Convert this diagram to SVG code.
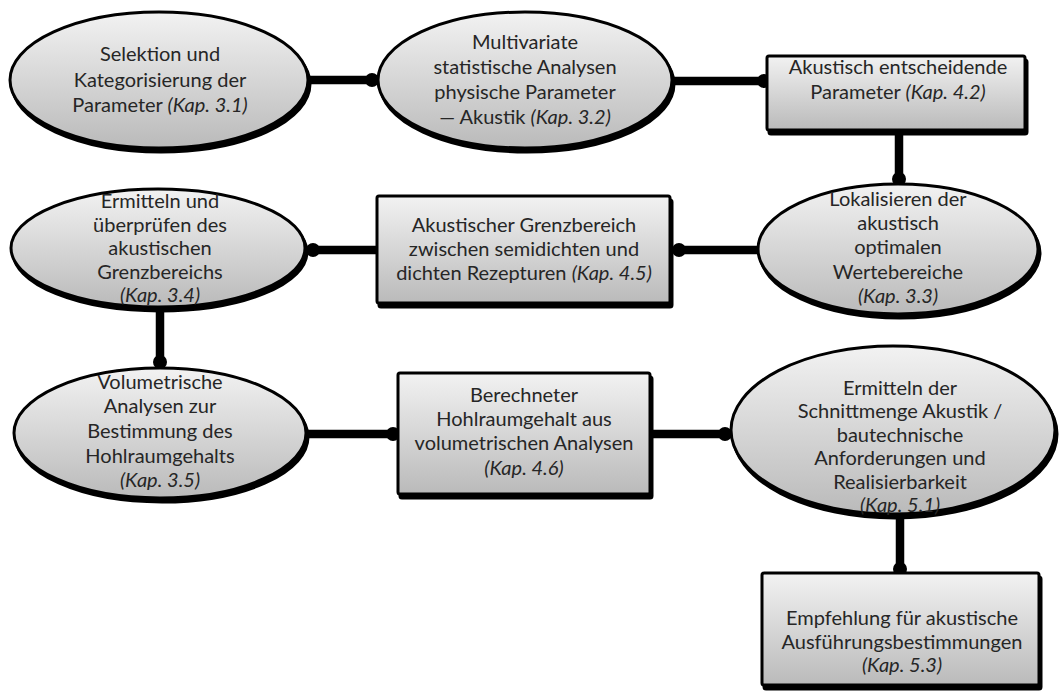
<svg xmlns="http://www.w3.org/2000/svg" width="1059" height="693" viewBox="0 0 1059 693">
<defs>
<linearGradient id="g" x1="0" y1="0" x2="0" y2="1">
<stop offset="0" stop-color="#f2f2f2"/>
<stop offset="1" stop-color="#bababa"/>
</linearGradient>
<marker id="dot" markerUnits="userSpaceOnUse" markerWidth="18" markerHeight="18" refX="9" refY="9" orient="auto">
<circle cx="9" cy="9" r="7" fill="#000"/>
</marker>
<style>
.sh{fill:#000;stroke:#000;stroke-width:3}
.bx{fill:url(#g);stroke:#000;stroke-width:3}
.t{font-family:Lato,"Liberation Sans",sans-serif;font-size:20px;fill:#262626;text-anchor:middle}
.i{font-style:italic}
.c{stroke:#000;stroke-width:8.5;fill:none;marker-end:url(#dot)}
</style>
</defs>
<rect width="1059" height="693" fill="#fff"/>
<g id="connectors">
<line class="c" x1="306" y1="80" x2="372" y2="80"/>
<line class="c" x1="672" y1="81" x2="764" y2="81"/>
<line class="c" x1="899" y1="132" x2="899" y2="179"/>
<line class="c" x1="758" y1="250" x2="679" y2="250"/>
<line class="c" x1="377" y1="250" x2="313" y2="250"/>
<line class="c" x1="160" y1="308" x2="160" y2="362"/>
<line class="c" x1="306" y1="434" x2="393" y2="434"/>
<line class="c" x1="650" y1="434" x2="725" y2="434"/>
<line class="c" x1="900" y1="514" x2="900" y2="569"/>
</g>
<g id="n1">
<ellipse class="sh" cx="161" cy="84" rx="149" ry="68"/>
<ellipse class="bx" cx="159" cy="80" rx="149" ry="68"/>
<text class="t" x="160" y="61">Selektion und</text>
<text class="t" x="160" y="87">Kategorisierung der</text>
<text class="t" x="160" y="112">Parameter <tspan class="i">(Kap. 3.1)</tspan></text>
</g>
<g id="n2">
<ellipse class="sh" cx="527" cy="84" rx="147" ry="68"/>
<ellipse class="bx" cx="525" cy="80" rx="147" ry="68"/>
<text class="t" x="525" y="49">Multivariate</text>
<text class="t" x="525" y="74">statistische Analysen</text>
<text class="t" x="525" y="99">physische  Parameter</text>
<text class="t" x="525" y="124">— Akustik <tspan class="i">(Kap. 3.2)</tspan></text>
</g>
<g id="n3">
<rect class="sh" x="769" y="60" width="258" height="74" rx="2"/>
<rect class="bx" x="767" y="56" width="258" height="74" rx="2"/>
<text class="t" x="898" y="74">Akustisch entscheidende</text>
<text class="t" x="898" y="99">Parameter <tspan class="i">(Kap. 4.2)</tspan></text>
</g>
<g id="n4">
<ellipse class="sh" cx="900" cy="253" rx="140" ry="65"/>
<ellipse class="bx" cx="898" cy="249" rx="140" ry="65"/>
<text class="t" x="898" y="206">Lokalisieren der</text>
<text class="t" x="898" y="230">akustisch</text>
<text class="t" x="898" y="254">optimalen</text>
<text class="t" x="898" y="279">Wertebereiche</text>
<text class="t i" x="898" y="303">(Kap. 3.3)</text>
</g>
<g id="n5">
<rect class="sh" x="379" y="200" width="293" height="107" rx="2"/>
<rect class="bx" x="377" y="196" width="293" height="107" rx="2"/>
<text class="t" x="524" y="232">Akustischer Grenzbereich</text>
<text class="t" x="524" y="256">zwischen semidichten und</text>
<text class="t" x="524" y="280">dichten Rezepturen <tspan class="i">(Kap. 4.5)</tspan></text>
</g>
<g id="n6">
<ellipse class="sh" cx="160" cy="252" rx="147" ry="59"/>
<ellipse class="bx" cx="158" cy="248" rx="147" ry="59"/>
<text class="t" x="160" y="208">Ermitteln und</text>
<text class="t" x="160" y="232">überprüfen  des</text>
<text class="t" x="160" y="255">akustischen</text>
<text class="t" x="160" y="279">Grenzbereichs</text>
<text class="t i" x="160" y="302">(Kap. 3.4)</text>
</g>
<g id="n7">
<ellipse class="sh" cx="162" cy="437" rx="146" ry="65"/>
<ellipse class="bx" cx="160" cy="433" rx="146" ry="65"/>
<text class="t" x="160" y="389">Volumetrische</text>
<text class="t" x="160" y="413">Analysen zur</text>
<text class="t" x="160" y="438">Bestimmung des</text>
<text class="t" x="160" y="463">Hohlraumgehalts</text>
<text class="t i" x="160" y="487">(Kap. 3.5)</text>
</g>
<g id="n8">
<rect class="sh" x="400" y="377" width="252" height="121" rx="2"/>
<rect class="bx" x="398" y="373" width="252" height="121" rx="2"/>
<text class="t" x="524" y="402">Berechneter</text>
<text class="t" x="524" y="426">Hohlraumgehalt aus</text>
<text class="t" x="524" y="450">volumetrischen Analysen</text>
<text class="t i" x="524" y="475">(Kap. 4.6)</text>
</g>
<g id="n9">
<ellipse class="sh" cx="895" cy="434" rx="162" ry="84"/>
<ellipse class="bx" cx="893" cy="430" rx="162" ry="84"/>
<text class="t" x="900" y="395">Ermitteln der</text>
<text class="t" x="900" y="418">Schnittmenge Akustik /</text>
<text class="t" x="900" y="442">bautechnische</text>
<text class="t" x="900" y="465">Anforderungen und</text>
<text class="t" x="900" y="489">Realisierbarkeit</text>
<text class="t i" x="900" y="512">(Kap. 5.1)</text>
</g>
<g id="n10">
<rect class="sh" x="764" y="577" width="277" height="112" rx="2"/>
<rect class="bx" x="762" y="573" width="277" height="112" rx="2"/>
<text class="t" x="902" y="625">Empfehlung für akustische</text>
<text class="t" x="902" y="649">Ausführungsbestimmungen</text>
<text class="t i" x="902" y="672">(Kap. 5.3)</text>
</g>
</svg>
